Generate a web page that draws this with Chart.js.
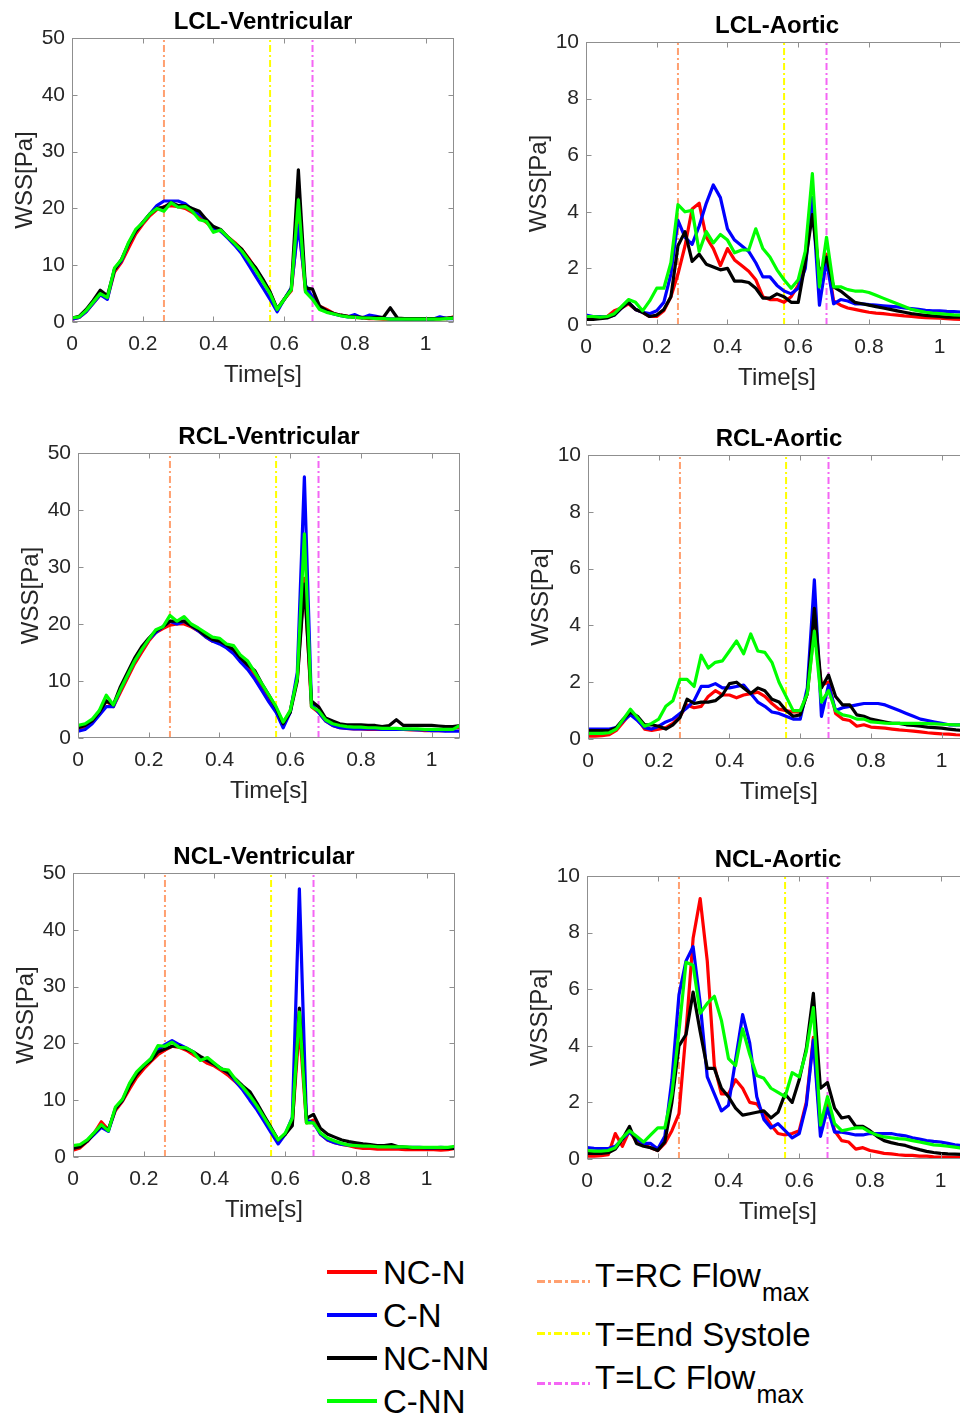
<!DOCTYPE html>
<html><head><meta charset="utf-8">
<script src="https://cdn.jsdelivr.net/npm/chart.js@4.4.1/dist/chart.umd.min.js"></script>
<style>
html,body{margin:0;padding:0;width:960px;height:1417px;overflow:hidden;background:#fff;}
canvas{position:absolute;}
.lg{position:absolute;font-family:"Liberation Sans",Arial,sans-serif;font-size:33px;line-height:1;color:#000;white-space:nowrap;}
.lg sub{font-size:25px;vertical-align:-14px;line-height:1;margin-left:1px;}
.sw{position:absolute;height:4px;width:50px;}
.dsw{position:absolute;height:3px;width:53px;}
</style></head><body>
<script>
// ---------------- DATA ----------------
const times = [0,0.02,0.04,0.06,0.08,0.1,0.12,0.14,0.16,0.18,0.2,0.22,0.24,0.26,0.28,0.3,0.32,0.34,0.36,0.38,0.4,0.42,0.44,0.46,0.48,0.5,0.52,0.54,0.56,0.58,0.6,0.62,0.64,0.66,0.68,0.7,0.72,0.74,0.76,0.78,0.8,0.82,0.84,0.86,0.88,0.9,0.92,0.94,0.96,0.98,1,1.02,1.04,1.06,1.08];
const seriesNames = ['NC-N','C-N','NC-NN','C-NN'];
const xTickValues = [0,0.2,0.4,0.6,0.8,1];
const xTickLabels = ['0','0.2','0.4','0.6','0.8','1'];
const ventTickValues = [0,10,20,30,40,50];
const ventTickLabels = ['0','10','20','30','40','50'];
const aortTickValues = [0,2,4,6,8,10];
const aortTickLabels = ['0','2','4','6','8','10'];
const markerTimes = [0.26,0.56,0.68];
const markerNames = ['T=RC Flow max','T=End Systole','T=LC Flow max'];

// LCL-Ventricular
const lclV_NCN = [0.5,0.8,1.8,3.3,4.8,4.2,8.8,10.5,13,15.5, 17.2,18.7,19.8,20.3,20.5,20.3,20,19.3,18.5,17.5, 16.5,16,15,14,12.8,11.2,9.3,7.3,5.2,2.2, 4,5.5,18,5.5,4.5,2.8,2.2,1.5,1.2,1.0, 0.8,0.7,0.6,0.6,0.5,0.5,0.5,0.5,0.5,0.6, 0.5,0.5,0.6,0.6,0.9];
const lclV_CN = [0.5,0.8,1.8,3.3,4.8,4.0,9.2,10.8,13.8,16, 17.5,19,20.5,21.3,21.3,21.3,20.8,19.8,19,18, 16.5,16,14.8,13.5,12,10,8,6,4,1.8, 4,6,17,6.5,4.3,2.5,1.8,1.4,1.1,0.9, 1.3,0.7,1.2,1.0,0.7,0.5,0.5,0.5,0.5,0.5, 0.5,0.5,0.9,0.6,0.6];
const lclV_NCNN = [0.7,1.0,2.2,3.8,5.6,4.6,9.2,11,13.8,16, 17.5,19,20,20.2,21,20.5,20.5,20,19.5,18, 16.8,16.3,15,13.8,12.8,11,9.5,7.5,5.3,2.3, 4,5.8,26.8,6,5.8,2.8,2.0,1.5,1.2,1.0, 0.9,0.8,0.7,0.8,0.8,2.5,0.7,0.6,0.6,0.6, 0.6,0.6,0.6,0.7,0.8];
const lclV_CNN = [0.7,0.9,2.0,3.5,5.0,4.3,9.5,11,14,16.3, 17.5,19,20,19.5,21,20.2,20.3,19.5,18,17.7, 15.8,16.2,15,13.8,12.5,10.8,9,7,5,2.2, 4,5.7,21.5,5.3,4,2.2,1.7,1.4,1.1,0.9, 0.8,0.7,0.7,0.6,0.6,0.5,0.5,0.5,0.5,0.5, 0.5,0.5,0.5,0.6,0.7];

// LCL-Aortic
const lclA_NCN = [0.2,0.22,0.25,0.3,0.5,0.6,0.75,0.55,0.45,0.3, 0.3,0.5,1.0,1.8,2.8,4.1,4.3,3.1,2.7,2.1, 2.7,2.3,2.1,1.9,1.6,1.0,0.9,0.9,0.8,1.0, 1.4,2.5,4.5,1.5,2.5,0.85,0.7,0.6,0.55,0.5, 0.45,0.42,0.4,0.37,0.35,0.32,0.3,0.28,0.26,0.25, 0.24,0.22,0.21,0.2,0.2];
const lclA_CN = [0.35,0.3,0.3,0.28,0.35,0.6,0.8,0.55,0.45,0.4, 0.5,0.8,1.8,3.7,3.1,2.85,3.5,4.3,4.95,4.5, 3.4,3.0,2.8,2.6,2.2,1.7,1.7,1.4,1.2,1.1, 1.3,2.0,4.5,0.7,2.3,0.75,0.9,0.85,0.75,0.75, 0.72,0.7,0.68,0.66,0.64,0.6,0.58,0.55,0.52,0.5, 0.5,0.48,0.47,0.46,0.45];
const lclA_NCNN = [0.2,0.2,0.22,0.25,0.35,0.6,0.8,0.55,0.45,0.3, 0.35,0.55,1.0,2.8,3.3,2.25,2.5,2.15,2.05,1.95, 2.0,1.55,1.55,1.5,1.3,0.95,0.95,1.1,1.0,0.8, 0.8,2.2,3.9,1.8,2.4,1.35,1.2,1.0,0.8,0.75, 0.7,0.65,0.6,0.55,0.5,0.45,0.4,0.37,0.34,0.32, 0.3,0.28,0.28,0.28,0.28];
const lclA_CNN = [0.3,0.3,0.28,0.3,0.4,0.65,0.9,0.8,0.5,0.85, 1.3,1.3,2.2,4.25,4.0,4.05,2.6,3.3,2.9,3.2, 3.0,2.55,2.65,2.65,3.4,2.7,2.4,1.95,1.6,1.3, 1.6,2.6,5.35,1.35,3.1,1.35,1.35,1.25,1.2,1.2, 1.15,1.05,0.95,0.85,0.75,0.65,0.55,0.5,0.45,0.42, 0.4,0.38,0.36,0.35,0.35];

// RCL-Ventricular
const rclV_NCN = [1.5,2.0,3.0,4.5,6.5,5.5,8,10.5,13,15, 17,18.5,19.2,19.8,20,20,19.5,18.8,17.8,17, 16.8,16,15,13.8,12.5,11,9,7,5,2.5, 4.8,10.5,28,5.5,4.5,3.0,2.2,1.8,1.7,1.6, 1.6,1.5,1.5,1.5,1.5,1.5,1.5,1.4,1.4,1.3, 1.3,1.3,1.3,1.8,1.8];
const rclV_CN = [1.2,1.5,2.5,4,5.5,5.5,8.5,11,13.5,15.5, 17.3,18.5,19.5,20.5,20,20.5,19.7,18.8,17.8,17, 16.5,15.8,14.8,13.3,12,10.3,8.3,6.3,4.5,1.8, 4.5,11.5,45.8,6,4.5,3,2.2,1.8,1.7,1.6, 1.6,1.6,1.6,1.5,1.5,1.5,1.5,1.5,1.4,1.4, 1.3,1.3,1.2,1.2,1.2];
const rclV_NCNN = [1.8,2.2,3.0,4.5,6.5,5.8,9,11.5,14,16, 17.5,18.8,19.5,20.5,20.5,20.5,19.7,19,18,17.3, 17,16.3,15.5,14,12.8,11.8,9.5,7.5,5.3,2.5, 4.5,10,27,6.5,5.5,3.5,3.0,2.5,2.3,2.3, 2.3,2.2,2.2,2.0,2.2,3.2,2.2,2.2,2.2,2.2, 2.2,2.1,2.0,2.0,2.2];
const rclV_CNN = [2.2,2.5,3.3,4.8,7.5,5.8,8.5,11,13.5,15.5, 17.3,19,19.5,21.5,20.5,21.3,20,19.3,18.5,17.7, 17.5,16.5,16.2,14.5,13.5,11.5,9.5,7.5,5.5,2.8, 4.8,10.5,35.8,5.5,4.8,3.2,2.5,2.2,2.0,1.9, 1.9,1.8,1.8,1.7,1.7,1.7,1.6,1.6,1.6,1.5, 1.5,1.5,1.5,1.5,2.2];

// RCL-Aortic
const rclA_NCN = [0.1,0.1,0.12,0.15,0.3,0.6,0.9,0.7,0.35,0.3, 0.35,0.4,0.55,0.8,1.2,1.1,1.15,1.5,1.7,1.55, 1.55,1.45,1.55,1.6,1.65,1.5,1.25,1.05,1.0,0.95, 0.95,1.6,3.9,1.9,2.0,0.9,0.7,0.65,0.45,0.5, 0.42,0.4,0.38,0.35,0.32,0.3,0.28,0.25,0.22,0.2, 0.18,0.17,0.15,0.14,0.13];
const rclA_CN = [0.35,0.35,0.35,0.35,0.4,0.65,0.85,0.65,0.4,0.35, 0.45,0.6,0.7,0.9,1.1,1.35,1.85,1.85,1.95,1.8, 1.8,1.85,1.9,1.6,1.3,1.15,0.95,0.9,0.8,0.7, 0.7,1.8,5.6,0.8,1.9,1.0,1.1,1.15,1.2,1.25, 1.25,1.25,1.2,1.1,1.0,0.9,0.8,0.7,0.65,0.6, 0.55,0.5,0.5,0.5,0.5];
const rclA_NCNN = [0.3,0.3,0.3,0.3,0.4,0.7,0.95,0.8,0.5,0.5, 0.45,0.35,0.5,0.75,1.4,1.25,1.3,1.3,1.35,1.55, 1.95,2.0,1.8,1.6,1.8,1.7,1.4,1.3,1.0,0.8, 0.85,1.6,4.6,1.8,2.25,1.5,1.2,1.2,0.85,0.8, 0.7,0.65,0.6,0.55,0.55,0.5,0.48,0.45,0.42,0.4, 0.38,0.35,0.32,0.3,0.3];
const rclA_CNN = [0.2,0.2,0.2,0.22,0.35,0.7,1.05,0.75,0.45,0.55, 0.7,1.15,1.35,2.1,2.1,1.85,2.95,2.5,2.7,2.75, 3.1,3.45,3.0,3.7,3.1,3.05,2.7,2.0,1.5,1.0, 1.0,1.6,3.8,1.3,1.7,1.0,0.85,0.8,0.7,0.7, 0.6,0.58,0.56,0.55,0.55,0.55,0.55,0.55,0.54,0.53, 0.52,0.51,0.5,0.5,0.5];

// NCL-Ventricular
const nclV_NCN = [1.2,1.6,2.7,4.2,6.2,4.8,8.2,9.8,12,14, 15.5,16.8,18,18.8,19.5,19.3,18.8,18,17.3,16.5, 16,15.2,14.3,13.2,12,10.8,9,7,5,3, 4,6,23,6,6.5,4,3,2.5,2.2,2, 1.7,1.5,1.5,1.4,1.4,1.4,1.4,1.3,1.3,1.3, 1.3,1.3,1.2,1.3,1.5];
const nclV_CN = [1.8,2.0,2.8,4.0,5.2,4.5,8.5,10,12.8,14.8, 16,17.3,18.8,19.8,20.5,19.8,19.2,18.5,17.5,17, 16.3,15.5,14.8,13.3,11.8,10,8.3,6.3,4.3,2.3, 4,7,47.2,6.5,6,4,3,2.5,2.2,2.1, 2.0,2.0,2.0,2.0,1.9,1.8,1.8,1.7,1.7,1.7, 1.6,1.6,1.7,1.6,1.6];
const nclV_NCNN = [1.5,1.8,2.8,4.2,5.5,4.8,8.5,10,12.5,14.5, 16,17,18.5,19,19.5,19.5,19,18.5,17.7,17, 16.3,15.5,14.8,13.7,12.5,11.5,9.5,7.3,5.2,3.0, 4.0,5.5,26.2,6.8,7.5,5,4,3.5,3,2.7, 2.5,2.3,2.2,2.0,2.0,2.2,1.8,1.7,1.6,1.6, 1.6,1.6,1.6,1.5,1.5];
const nclV_CNN = [2.0,2.2,3.0,4.3,5.7,4.6,8.8,10.2,13,15, 16.2,17.3,19.6,19.5,20.2,19.3,19.2,18.5,17,17.5, 16.5,15.5,15.3,13.6,12.3,10.8,9,7,5,3, 4.2,6.8,25.5,6,6,4.2,3.3,2.8,2.4,2.1, 2.0,1.9,1.9,1.8,1.8,1.8,1.8,1.8,1.7,1.7, 1.7,1.7,1.7,1.7,1.9];

// NCL-Aortic
const nclA_NCN = [0.1,0.1,0.12,0.15,0.9,0.45,1.0,0.6,0.5,0.4, 0.3,0.55,1.0,1.6,4.5,7.8,9.2,7.0,3.3,2.3, 2.3,2.8,2.5,2.0,1.95,1.6,1.2,0.9,0.85,0.9, 1.0,2.0,4.3,1.1,2.0,1.0,0.65,0.6,0.35,0.4, 0.3,0.25,0.2,0.18,0.15,0.13,0.13,0.1,0.1,0.08, 0.07,0.07,0.06,0.06,0.06];
const nclA_CN = [0.4,0.38,0.37,0.37,0.45,0.7,0.95,0.7,0.55,0.55, 0.35,0.8,2.8,5.8,7.0,7.5,5.5,2.9,2.3,1.7, 1.9,3.5,5.1,4.1,2.2,1.4,1.1,1.25,1.0,0.75, 0.9,1.9,4.2,0.8,1.8,0.95,0.95,0.9,0.85,0.85, 0.9,0.9,0.9,0.9,0.85,0.82,0.75,0.7,0.65,0.62, 0.6,0.55,0.5,0.47,0.45];
const nclA_NCNN = [0.2,0.2,0.2,0.22,0.35,0.7,1.15,0.55,0.45,0.4, 0.3,0.6,2.0,4.0,4.4,5.9,4.5,3.2,3.2,2.5, 2.2,1.8,1.55,1.6,1.65,1.7,1.45,1.65,2.3,2.0, 2.8,3.9,5.85,2.5,2.7,1.8,1.45,1.5,1.15,1.15, 1.0,0.8,0.65,0.58,0.52,0.48,0.4,0.33,0.27,0.23, 0.2,0.18,0.17,0.16,0.16];
const nclA_CNN = [0.3,0.28,0.28,0.3,0.4,0.75,1.0,0.8,0.6,0.85, 1.1,1.1,2.3,4.5,6.95,6.85,5.15,5.5,5.75,4.9, 3.55,3.3,4.6,3.7,2.95,2.85,2.5,2.35,2.2,3.05, 2.9,3.8,5.35,1.2,2.2,1.25,1.0,1.05,1.1,1.1, 0.95,0.85,0.78,0.75,0.72,0.7,0.65,0.6,0.55,0.5, 0.48,0.45,0.42,0.38,0.35];

// ---------------- STYLE / LAYOUT ----------------
const FONT = '"Liberation Sans", Arial, sans-serif';
const seriesColors = ['#ff0000','#0000ff','#000000','#00ff00'];
const markerColors = ['#ffa070','#ffff00','#f466f4'];

const panels = [
  {title:'LCL-Ventricular', yMax:50, yt:ventTickValues, yl:ventTickLabels, s:[lclV_NCN,lclV_CN,lclV_NCNN,lclV_CNN], L:72, T:38, H:284},
  {title:'LCL-Aortic', yMax:10, yt:aortTickValues, yl:aortTickLabels, s:[lclA_NCN,lclA_CN,lclA_NCNN,lclA_CNN], L:586, T:42, H:283},
  {title:'RCL-Ventricular', yMax:50, yt:ventTickValues, yl:ventTickLabels, s:[rclV_NCN,rclV_CN,rclV_NCNN,rclV_CNN], L:78, T:453, H:285},
  {title:'RCL-Aortic', yMax:10, yt:aortTickValues, yl:aortTickLabels, s:[rclA_NCN,rclA_CN,rclA_NCNN,rclA_CNN], L:588, T:455, H:284},
  {title:'NCL-Ventricular', yMax:50, yt:ventTickValues, yl:ventTickLabels, s:[nclV_NCN,nclV_CN,nclV_NCNN,nclV_CNN], L:73, T:873, H:284},
  {title:'NCL-Aortic', yMax:10, yt:aortTickValues, yl:aortTickLabels, s:[nclA_NCN,nclA_CN,nclA_NCNN,nclA_CNN], L:587, T:876, H:283}
];
const PLOT_W = 382, YAXIS_W = 72, TITLE_H = 38, XAXIS_H = 70;

const boxPlugin = {
  id:'matlabBox',
  afterDatasetsDraw(chart){
    const {ctx, chartArea:{left,right,top,bottom}, scales:{x,y}} = chart;
    ctx.save();
    ctx.strokeStyle = '#8f8f8f';
    ctx.lineWidth = 1;
    const l = Math.round(left)+0.5, r = Math.round(right)-0.5, t = Math.round(top)+0.5, b = Math.round(bottom)-0.5;
    ctx.strokeRect(l, t, r-l, b-t);
    ctx.beginPath();
    x.ticks.forEach(tk=>{
      const px = Math.round(x.getPixelForValue(tk.value))+0.5;
      ctx.moveTo(px,b); ctx.lineTo(px,b-5);
      ctx.moveTo(px,t); ctx.lineTo(px,t+5);
    });
    y.ticks.forEach(tk=>{
      const py = Math.round(y.getPixelForValue(tk.value))+0.5;
      ctx.moveTo(l,py); ctx.lineTo(l+5,py);
      ctx.moveTo(r,py); ctx.lineTo(r-5,py);
    });
    ctx.stroke();
    ctx.restore();
  }
};

panels.forEach(p=>{
  const cv = document.createElement('canvas');
  cv.width = YAXIS_W + PLOT_W + YAXIS_W;   // symmetric so the title centres over the plot
  cv.height = TITLE_H + p.H + XAXIS_H;
  cv.style.left = (p.L - YAXIS_W) + 'px';
  cv.style.top = (p.T - TITLE_H) + 'px';
  cv.style.width = cv.width + 'px';
  cv.style.height = cv.height + 'px';
  document.body.appendChild(cv);

  const datasets = [];
  // C-NN drawn on top, then NC-NN, C-N, NC-N
  [3,2,1,0].forEach(k=>{
    datasets.push({
      label: seriesNames[k],
      data: times.map((t,i)=>({x:t, y:p.s[k][i]})),
      borderColor: seriesColors[k],
      borderWidth: 3.2,
      pointRadius: 0,
      tension: 0,
      fill: false,
      borderJoinStyle: 'round',
      yAxisID: 'y'
    });
  });
  markerTimes.forEach((mt,k)=>{
    datasets.push({
      label: markerNames[k],
      data: [{x:mt, y:0},{x:mt, y:p.yMax}],
      borderColor: markerColors[k],
      borderWidth: 2,
      borderDash: [7,3,2,3],
      pointRadius: 0,
      fill: false,
      yAxisID: 'y'
    });
  });

  new Chart(cv.getContext('2d'), {
    type:'line',
    data:{datasets},
    options:{
      responsive:false, animation:false, devicePixelRatio:1, events:[],
      layout:{padding:0},
      plugins:{
        legend:{display:false}, tooltip:{enabled:false},
        title:{display:true, text:p.title, color:'#000',
          font:{family:FONT, size:24, weight:'bold', lineHeight:1.2},
          padding:{top:8, bottom:1.2}}
      },
      scales:{
        x:{type:'linear', min:0, max:1.08,
          afterBuildTicks:a=>{a.ticks = xTickValues.map(v=>({value:v}));},
          afterFit:a=>{a.height = XAXIS_H;},
          grid:{display:false, drawTicks:false}, border:{display:false},
          ticks:{padding:10, color:'#262626', font:{family:FONT, size:21}, maxRotation:0, autoSkip:false,
            callback:(v,i)=>xTickLabels[i]},
          title:{display:true, text:'Time[s]', color:'#262626', font:{family:FONT, size:24, lineHeight:1.2}, padding:{top:0, bottom:2.6}}
        },
        y:{type:'linear', position:'left', min:0, max:p.yMax,
          afterBuildTicks:a=>{a.ticks = p.yt.map(v=>({value:v}));},
          afterFit:a=>{a.width = YAXIS_W;},
          grid:{display:false, drawTicks:false}, border:{display:false},
          ticks:{padding:7, color:'#262626', font:{family:FONT, size:21}, autoSkip:false,
            callback:(v,i)=>p.yl[i]},
          title:{display:true, text:'WSS[Pa]', color:'#262626', font:{family:FONT, size:24, lineHeight:1.2}, padding:{top:11, bottom:0}}
        },
        yRight:{type:'linear', position:'right', min:0, max:1,
          afterFit:a=>{a.width = YAXIS_W;},
          grid:{display:false, drawTicks:false}, border:{display:false},
          ticks:{display:false}
        }
      }
    },
    plugins:[boxPlugin]
  });
});

// ---------------- LEGEND (HTML) ----------------
const legendRowsY = [1272,1315,1358,1401];
seriesNames.forEach((n,k)=>{
  const sw = document.createElement('div');
  sw.className = 'sw';
  sw.style.left = '327px'; sw.style.top = (legendRowsY[k]-2)+'px';
  sw.style.background = seriesColors[k];
  document.body.appendChild(sw);
  const tx = document.createElement('div');
  tx.className = 'lg';
  tx.style.left = '383px'; tx.style.top = (legendRowsY[k]-16)+'px';
  tx.textContent = n;
  document.body.appendChild(tx);
});
const markerRowsY = [1281,1333,1383];
const markerTextY = [1275,1334,1377];
const markerHtml = ['T=RC Flow<sub>max</sub>','T=End Systole','T=LC Flow<sub>max</sub>'];
markerHtml.forEach((h,k)=>{
  const c = markerColors[k];
  const sw = document.createElement('div');
  sw.className = 'dsw';
  sw.style.left = '537px'; sw.style.top = (markerRowsY[k]-1)+'px';
  sw.style.background = `repeating-linear-gradient(to right, ${c} 0 8px, transparent 8px 11px, ${c} 11px 14px, transparent 14px 17px)`;
  document.body.appendChild(sw);
  const tx = document.createElement('div');
  tx.className = 'lg';
  tx.style.left = '595px'; tx.style.top = (markerTextY[k]-16)+'px';
  tx.innerHTML = h;
  document.body.appendChild(tx);
});
</script>
</body></html>
